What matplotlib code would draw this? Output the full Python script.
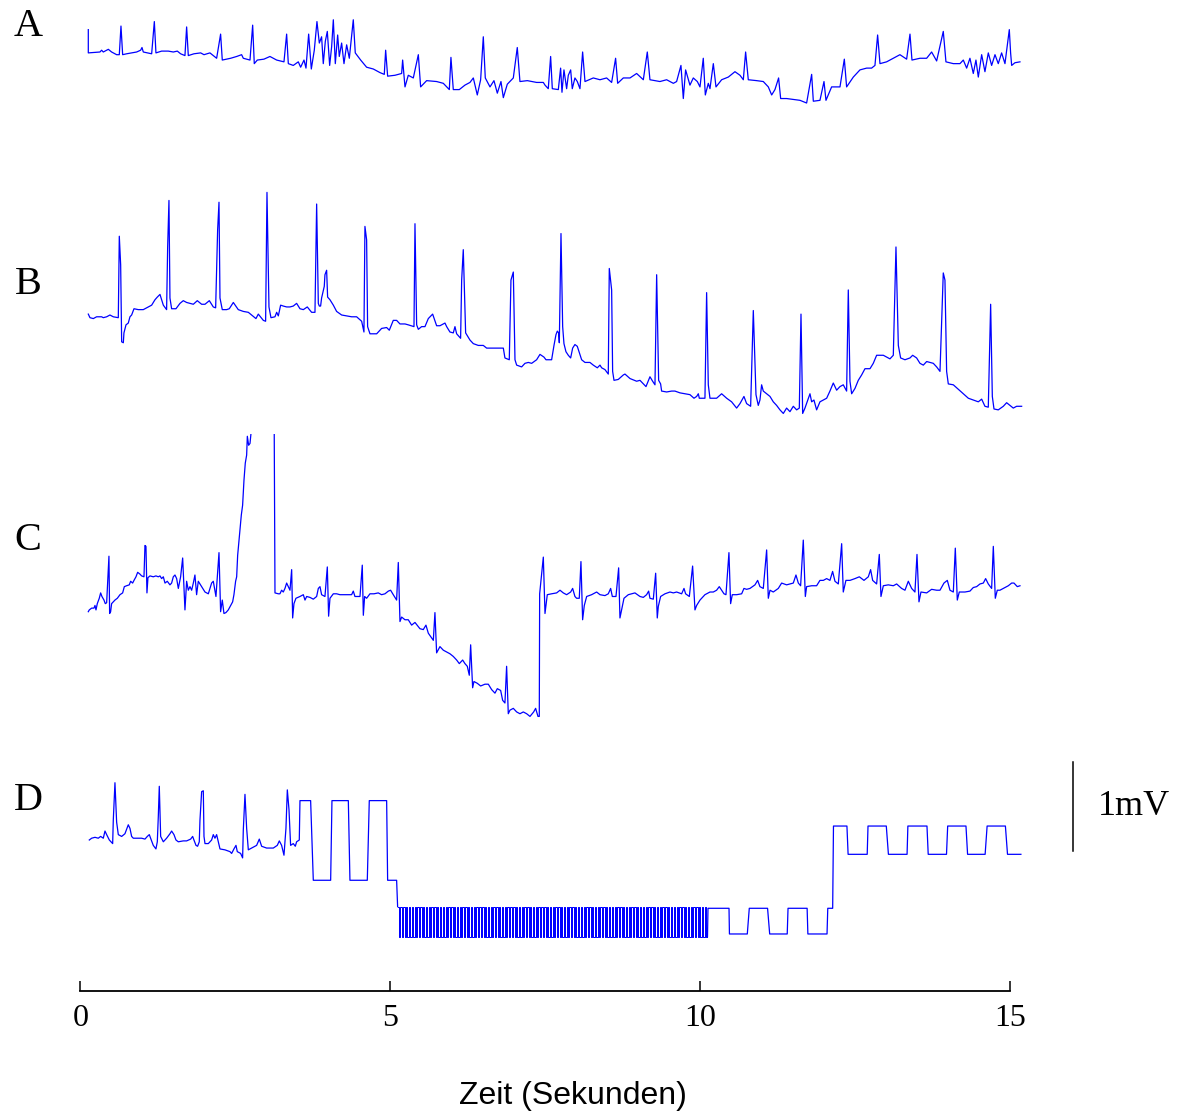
import numpy as np
import matplotlib.pyplot as plt

# ECG recordings, time in s, voltage in mV relative to each trace's start level
trace_a = np.array([
    (0.129, 0.25), (0.129, -0.01), (0.317, 0.00), (0.344, 0.02), (0.371, 0.00), (0.452, 0.03),
    (0.505, 0.00), (0.586, -0.03), (0.629, -0.03), (0.656, 0.29), (0.683, -0.03), (0.747, -0.02),
    (0.828, -0.01), (0.909, 0.00), (0.973, 0.02), (0.995, 0.05), (1.016, 0.00), (1.151, -0.02),
    (1.194, 0.34), (1.220, -0.01), (1.312, 0.01), (1.419, 0.01), (1.500, 0.00), (1.565, 0.01),
    (1.618, -0.02), (1.688, -0.04), (1.715, 0.28), (1.742, -0.04), (1.833, -0.02), (1.941, -0.01),
    (1.995, -0.03), (2.091, -0.01), (2.199, -0.07), (2.263, 0.20), (2.290, -0.09), (2.425, -0.07),
    (2.522, -0.05), (2.602, -0.03), (2.629, -0.07), (2.737, -0.09), (2.780, 0.30), (2.806, -0.13),
    (2.855, -0.09), (2.962, -0.08), (3.059, -0.05), (3.167, -0.09), (3.285, -0.11), (3.328, 0.20),
    (3.355, -0.13), (3.435, -0.15), (3.516, -0.11), (3.554, -0.17), (3.608, -0.09), (3.640, -0.18),
    (3.683, 0.20), (3.726, -0.19), (3.774, 0.02), (3.817, 0.34), (3.855, 0.10), (3.892, 0.17),
    (3.919, -0.13), (3.952, 0.12), (3.984, 0.23), (4.022, -0.15), (4.054, 0.06), (4.081, 0.36),
    (4.113, -0.13), (4.151, 0.19), (4.177, -0.05), (4.215, 0.10), (4.253, -0.13), (4.296, 0.08),
    (4.339, -0.07), (4.403, 0.36), (4.435, -0.01), (4.522, -0.09), (4.618, -0.17), (4.726, -0.19),
    (4.833, -0.23), (4.903, -0.25), (4.925, 0.02), (4.957, -0.27), (5.075, -0.26), (5.183, -0.24),
    (5.199, -0.09), (5.237, -0.39), (5.290, -0.26), (5.371, -0.29), (5.452, -0.03), (5.489, -0.39),
    (5.586, -0.32), (5.747, -0.33), (5.855, -0.35), (5.952, -0.42), (5.978, -0.06), (6.016, -0.42),
    (6.113, -0.42), (6.204, -0.37), (6.285, -0.34), (6.339, -0.29), (6.403, -0.48), (6.457, -0.31),
    (6.500, 0.17), (6.532, -0.29), (6.608, -0.39), (6.672, -0.32), (6.726, -0.46), (6.785, -0.33),
    (6.823, -0.51), (6.887, -0.36), (6.984, -0.29), (7.048, 0.05), (7.091, -0.33), (7.210, -0.32),
    (7.360, -0.34), (7.468, -0.34), (7.495, -0.37), (7.548, -0.41), (7.586, -0.05), (7.613, -0.41),
    (7.710, -0.42), (7.747, -0.18), (7.769, -0.45), (7.801, -0.20), (7.844, -0.41), (7.871, -0.26),
    (7.909, -0.20), (7.935, -0.41), (7.978, -0.29), (8.016, -0.33), (8.059, -0.41), (8.102, 0.00),
    (8.140, -0.33), (8.274, -0.29), (8.382, -0.31), (8.489, -0.29), (8.570, -0.34), (8.634, -0.07),
    (8.667, -0.35), (8.758, -0.29), (8.866, -0.29), (8.973, -0.24), (9.081, -0.31), (9.145, 0.00),
    (9.188, -0.31), (9.269, -0.32), (9.349, -0.33), (9.457, -0.31), (9.565, -0.35), (9.618, -0.33),
    (9.688, -0.15), (9.726, -0.52), (9.763, -0.20), (9.833, -0.37), (9.887, -0.29), (9.952, -0.33),
    (9.995, -0.39), (10.048, -0.07), (10.081, -0.48), (10.129, -0.35), (10.156, -0.41), (10.210, -0.13),
    (10.253, -0.39), (10.344, -0.31), (10.452, -0.28), (10.559, -0.22), (10.640, -0.26), (10.694, -0.31),
    (10.731, 0.00), (10.774, -0.31), (10.909, -0.32), (11.016, -0.33), (11.097, -0.39), (11.151, -0.48),
    (11.204, -0.42), (11.263, -0.29), (11.296, -0.52), (11.392, -0.52), (11.500, -0.53), (11.608, -0.54),
    (11.715, -0.57), (11.796, -0.25), (11.823, -0.55), (11.930, -0.54), (11.995, -0.33), (12.027, -0.54),
    (12.118, -0.39), (12.253, -0.39), (12.323, -0.08), (12.360, -0.39), (12.468, -0.28), (12.575, -0.20),
    (12.683, -0.18), (12.763, -0.18), (12.817, -0.15), (12.860, 0.19), (12.898, -0.13), (13.005, -0.11),
    (13.113, -0.07), (13.220, -0.03), (13.328, -0.08), (13.382, 0.20), (13.414, -0.09), (13.543, -0.07),
    (13.651, -0.07), (13.731, 0.00), (13.812, -0.10), (13.919, 0.23), (13.962, -0.11), (14.081, -0.13),
    (14.188, -0.13), (14.242, -0.09), (14.296, -0.18), (14.349, -0.07), (14.403, -0.24), (14.446, -0.09),
    (14.484, -0.28), (14.538, -0.03), (14.591, -0.22), (14.645, -0.01), (14.699, -0.15), (14.753, -0.03),
    (14.806, -0.13), (14.860, -0.01), (14.914, -0.13), (14.984, 0.25), (15.005, -0.01), (15.022, -0.15),
    (15.075, -0.12), (15.156, -0.11),
])

trace_b = np.array([
    (0.129, 0.01), (0.156, -0.03), (0.210, -0.04), (0.263, -0.02), (0.344, -0.02), (0.371, -0.03),
    (0.425, -0.02), (0.478, 0.00), (0.532, -0.02), (0.613, -0.03), (0.629, 0.88), (0.651, 0.56),
    (0.667, -0.30), (0.694, -0.31), (0.704, -0.20), (0.737, -0.11), (0.774, -0.09), (0.801, -0.02),
    (0.828, 0.00), (0.866, 0.07), (0.935, 0.06), (1.016, 0.06), (1.097, 0.09), (1.151, 0.11),
    (1.204, 0.17), (1.242, 0.20), (1.285, 0.23), (1.339, 0.11), (1.392, 0.06), (1.409, 0.76),
    (1.430, 1.28), (1.446, 0.19), (1.473, 0.07), (1.543, 0.07), (1.608, 0.13), (1.661, 0.16),
    (1.715, 0.14), (1.769, 0.13), (1.823, 0.12), (1.887, 0.16), (1.957, 0.12), (2.011, 0.12),
    (2.081, 0.16), (2.145, 0.09), (2.183, 0.08), (2.215, 0.95), (2.237, 1.26), (2.253, 0.19),
    (2.290, 0.06), (2.360, 0.06), (2.403, 0.07), (2.468, 0.14), (2.548, 0.06), (2.629, 0.04),
    (2.710, 0.03), (2.763, 0.00), (2.833, -0.04), (2.871, 0.01), (2.952, -0.06), (2.989, -0.07),
    (3.011, 1.37), (3.043, 0.09), (3.075, -0.03), (3.140, -0.02), (3.167, 0.03), (3.194, -0.01),
    (3.231, 0.11), (3.274, 0.10), (3.328, 0.09), (3.382, 0.09), (3.435, 0.10), (3.489, 0.13),
    (3.543, 0.07), (3.597, 0.06), (3.661, 0.09), (3.731, 0.03), (3.785, 0.03), (3.812, 1.24),
    (3.839, 0.13), (3.855, 0.10), (3.876, 0.10), (3.892, 0.19), (3.935, 0.32), (3.946, 0.45),
    (3.973, 0.50), (3.989, 0.20), (4.027, 0.17), (4.081, 0.11), (4.134, 0.04), (4.215, 0.00),
    (4.296, -0.01), (4.376, -0.02), (4.457, -0.02), (4.538, -0.07), (4.575, -0.19), (4.591, 0.99),
    (4.618, 0.84), (4.634, -0.13), (4.672, -0.21), (4.780, -0.21), (4.860, -0.15), (4.941, -0.14),
    (4.984, -0.17), (5.048, -0.06), (5.102, -0.06), (5.156, -0.10), (5.237, -0.10), (5.290, -0.11),
    (5.382, -0.13), (5.398, 1.02), (5.425, -0.11), (5.452, -0.16), (5.505, -0.13), (5.559, -0.13),
    (5.613, -0.04), (5.683, 0.01), (5.747, -0.12), (5.801, -0.12), (5.882, -0.09), (5.909, -0.13),
    (5.962, -0.19), (6.016, -0.20), (6.043, -0.13), (6.070, -0.21), (6.134, -0.26), (6.151, 0.39),
    (6.177, 0.73), (6.215, -0.20), (6.285, -0.28), (6.339, -0.32), (6.419, -0.34), (6.500, -0.34),
    (6.554, -0.37), (6.688, -0.37), (6.823, -0.37), (6.849, -0.48), (6.919, -0.50), (6.946, 0.39),
    (6.984, 0.48), (7.011, -0.50), (7.038, -0.56), (7.118, -0.58), (7.172, -0.54), (7.226, -0.53),
    (7.280, -0.54), (7.360, -0.50), (7.414, -0.44), (7.478, -0.47), (7.511, -0.50), (7.602, -0.50),
    (7.618, -0.43), (7.640, -0.34), (7.672, -0.22), (7.694, -0.18), (7.715, -0.20), (7.726, -0.31),
    (7.753, 0.91), (7.780, -0.13), (7.801, -0.32), (7.833, -0.41), (7.871, -0.45), (7.909, -0.48),
    (7.941, -0.37), (7.978, -0.33), (8.016, -0.35), (8.086, -0.50), (8.140, -0.53), (8.220, -0.53),
    (8.274, -0.56), (8.339, -0.59), (8.382, -0.56), (8.409, -0.59), (8.462, -0.61), (8.516, -0.66),
    (8.532, 0.52), (8.570, 0.28), (8.586, -0.63), (8.608, -0.73), (8.677, -0.72), (8.758, -0.67),
    (8.785, -0.66), (8.866, -0.71), (8.973, -0.74), (9.027, -0.73), (9.124, -0.80), (9.188, -0.69),
    (9.231, -0.74), (9.269, -0.78), (9.296, 0.45), (9.328, -0.73), (9.360, -0.77), (9.376, -0.85),
    (9.457, -0.86), (9.538, -0.85), (9.591, -0.85), (9.672, -0.87), (9.753, -0.88), (9.833, -0.89),
    (9.898, -0.93), (9.941, -0.91), (9.968, -0.88), (9.984, -0.93), (10.075, -0.93), (10.102, 0.25),
    (10.129, -0.78), (10.156, -0.93), (10.263, -0.93), (10.344, -0.88), (10.425, -0.93), (10.505, -0.97),
    (10.586, -1.04), (10.640, -0.99), (10.704, -0.91), (10.747, -0.99), (10.812, -1.02), (10.855, 0.05),
    (10.898, -0.89), (10.935, -1.01), (10.962, -0.95), (10.989, -0.78), (11.016, -0.85), (11.070, -0.88),
    (11.124, -0.91), (11.177, -0.97), (11.231, -1.01), (11.285, -1.06), (11.339, -1.10), (11.392, -1.04),
    (11.446, -1.08), (11.500, -1.02), (11.554, -1.06), (11.597, -1.04), (11.624, 0.01), (11.651, -1.10),
    (11.688, -1.04), (11.769, -0.88), (11.796, -0.97), (11.833, -0.95), (11.876, -1.06), (11.930, -0.97),
    (11.984, -0.95), (12.038, -0.93), (12.091, -0.85), (12.145, -0.76), (12.199, -0.84), (12.253, -0.80),
    (12.306, -0.78), (12.360, -0.85), (12.387, 0.28), (12.414, -0.74), (12.441, -0.88), (12.495, -0.82),
    (12.548, -0.73), (12.602, -0.67), (12.656, -0.60), (12.737, -0.60), (12.790, -0.54), (12.844, -0.45),
    (12.952, -0.45), (13.059, -0.49), (13.113, -0.45), (13.156, 0.76), (13.194, -0.34), (13.231, -0.48),
    (13.301, -0.50), (13.382, -0.48), (13.425, -0.45), (13.489, -0.48), (13.543, -0.54), (13.597, -0.56),
    (13.651, -0.52), (13.758, -0.54), (13.812, -0.58), (13.866, -0.63), (13.919, 0.47), (13.946, 0.39),
    (13.973, -0.63), (14.000, -0.77), (14.081, -0.78), (14.161, -0.83), (14.242, -0.88), (14.323, -0.93),
    (14.403, -0.95), (14.484, -0.97), (14.538, -0.94), (14.591, -1.02), (14.645, -1.03), (14.683, 0.12),
    (14.710, -0.91), (14.737, -1.05), (14.806, -1.06), (14.887, -1.02), (14.941, -0.98), (14.995, -1.01),
    (15.048, -1.04), (15.102, -1.02), (15.183, -1.02),
])

# the part of C above the panel top is cut off, as in the recording
trace_c = np.array([
    (0.129, 0.00), (0.145, 0.02), (0.183, 0.04), (0.220, 0.04), (0.237, 0.07), (0.253, 0.02),
    (0.274, 0.09), (0.306, 0.15), (0.328, 0.21), (0.349, 0.17), (0.382, 0.13), (0.403, 0.09),
    (0.425, 0.10), (0.441, 0.32), (0.462, 0.62), (0.473, -0.02), (0.489, 0.00), (0.505, 0.09),
    (0.532, 0.11), (0.559, 0.13), (0.597, 0.15), (0.640, 0.19), (0.683, 0.21), (0.710, 0.28),
    (0.747, 0.29), (0.790, 0.30), (0.812, 0.34), (0.844, 0.32), (0.866, 0.35), (0.898, 0.39),
    (0.925, 0.44), (0.962, 0.42), (0.989, 0.40), (1.027, 0.39), (1.043, 0.74), (1.059, 0.73),
    (1.075, 0.21), (1.091, 0.38), (1.124, 0.40), (1.177, 0.39), (1.220, 0.40), (1.258, 0.39),
    (1.285, 0.40), (1.312, 0.37), (1.339, 0.39), (1.366, 0.32), (1.403, 0.34), (1.446, 0.30),
    (1.473, 0.32), (1.500, 0.39), (1.527, 0.41), (1.554, 0.37), (1.581, 0.26), (1.618, 0.39),
    (1.651, 0.60), (1.688, 0.02), (1.715, 0.34), (1.742, 0.24), (1.769, 0.28), (1.796, 0.24),
    (1.823, 0.32), (1.849, 0.41), (1.876, 0.19), (1.903, 0.34), (1.957, 0.28), (2.011, 0.22),
    (2.065, 0.20), (2.118, 0.32), (2.145, 0.34), (2.188, 0.17), (2.237, 0.66), (2.263, 0.00),
    (2.290, 0.13), (2.317, -0.02), (2.349, -0.01), (2.387, 0.02), (2.425, 0.07), (2.457, 0.11),
    (2.478, 0.19), (2.505, 0.34), (2.522, 0.39), (2.538, 0.63), (2.575, 0.91), (2.597, 1.08),
    (2.618, 1.19), (2.629, 1.34), (2.640, 1.47), (2.661, 1.66), (2.683, 1.75), (2.694, 1.96),
    (2.715, 1.86), (2.737, 1.88), (2.780, 2.18), (2.844, 2.59), (3.124, 2.59), (3.140, 0.21),
    (3.194, 0.20), (3.220, 0.20), (3.247, 0.24), (3.274, 0.22), (3.301, 0.26), (3.328, 0.32),
    (3.355, 0.28), (3.382, 0.24), (3.409, 0.47), (3.425, -0.07), (3.446, 0.09), (3.478, 0.15),
    (3.543, 0.17), (3.597, 0.19), (3.624, 0.13), (3.651, 0.17), (3.704, 0.16), (3.758, 0.14),
    (3.812, 0.17), (3.839, 0.26), (3.866, 0.28), (3.892, 0.19), (3.946, 0.17), (3.984, 0.50),
    (4.005, -0.05), (4.027, 0.15), (4.081, 0.20), (4.134, 0.20), (4.188, 0.19), (4.242, 0.19),
    (4.296, 0.19), (4.376, 0.19), (4.403, 0.23), (4.430, 0.17), (4.511, 0.17), (4.548, 0.52),
    (4.565, -0.04), (4.586, 0.17), (4.618, 0.15), (4.672, 0.20), (4.737, 0.20), (4.806, 0.21),
    (4.860, 0.19), (4.914, 0.20), (4.968, 0.23), (5.005, 0.24), (5.048, 0.19), (5.102, 0.13),
    (5.129, 0.55), (5.156, -0.11), (5.183, -0.06), (5.237, -0.09), (5.290, -0.09), (5.344, -0.15),
    (5.398, -0.12), (5.478, -0.19), (5.532, -0.20), (5.575, -0.15), (5.613, -0.24), (5.694, -0.32),
    (5.720, -0.01), (5.747, -0.46), (5.801, -0.39), (5.855, -0.43), (5.909, -0.45), (5.962, -0.47),
    (6.016, -0.50), (6.070, -0.54), (6.113, -0.58), (6.167, -0.54), (6.204, -0.58), (6.242, -0.61),
    (6.274, -0.71), (6.296, -0.37), (6.328, -0.85), (6.349, -0.78), (6.403, -0.80), (6.457, -0.83),
    (6.527, -0.81), (6.581, -0.81), (6.634, -0.87), (6.688, -0.91), (6.726, -0.86), (6.780, -0.88),
    (6.812, -0.99), (6.849, -1.02), (6.876, -0.61), (6.903, -1.14), (6.930, -1.10), (6.984, -1.08),
    (7.038, -1.12), (7.091, -1.14), (7.145, -1.12), (7.199, -1.14), (7.253, -1.17), (7.312, -1.12),
    (7.344, -1.08), (7.382, -1.17), (7.403, -1.17), (7.409, 0.20), (7.468, 0.61), (7.495, -0.02),
    (7.532, 0.19), (7.602, 0.20), (7.683, 0.21), (7.737, 0.24), (7.790, 0.21), (7.844, 0.19),
    (7.909, 0.22), (7.941, 0.26), (7.978, 0.17), (8.005, 0.15), (8.048, 0.15), (8.075, 0.56),
    (8.102, -0.09), (8.129, 0.07), (8.167, 0.17), (8.247, 0.19), (8.328, 0.22), (8.382, 0.19),
    (8.462, 0.18), (8.516, 0.20), (8.554, 0.26), (8.581, 0.17), (8.640, 0.17), (8.683, 0.49),
    (8.704, -0.07), (8.731, 0.02), (8.769, 0.15), (8.839, 0.19), (8.946, 0.21), (9.027, 0.17),
    (9.081, 0.16), (9.134, 0.19), (9.167, 0.23), (9.188, 0.15), (9.242, 0.14), (9.280, 0.43),
    (9.306, -0.07), (9.323, 0.06), (9.360, 0.17), (9.430, 0.20), (9.511, 0.22), (9.565, 0.21),
    (9.618, 0.22), (9.699, 0.20), (9.737, 0.26), (9.763, 0.20), (9.823, 0.17), (9.876, 0.51),
    (9.914, 0.02), (9.941, 0.07), (9.995, 0.13), (10.075, 0.19), (10.156, 0.22), (10.210, 0.22),
    (10.263, 0.24), (10.306, 0.28), (10.344, 0.24), (10.382, 0.20), (10.414, 0.19), (10.462, 0.66),
    (10.489, 0.09), (10.516, 0.19), (10.586, 0.19), (10.667, 0.20), (10.704, 0.26), (10.747, 0.25),
    (10.801, 0.26), (10.882, 0.30), (10.925, 0.35), (10.962, 0.28), (11.016, 0.26), (11.070, 0.69),
    (11.097, 0.15), (11.124, 0.24), (11.177, 0.22), (11.258, 0.26), (11.312, 0.32), (11.392, 0.30),
    (11.500, 0.32), (11.543, 0.41), (11.581, 0.32), (11.618, 0.29), (11.661, 0.80), (11.694, 0.17),
    (11.715, 0.28), (11.796, 0.29), (11.876, 0.29), (11.930, 0.35), (11.984, 0.35), (12.038, 0.37),
    (12.091, 0.35), (12.134, 0.45), (12.172, 0.34), (12.226, 0.31), (12.280, 0.76), (12.306, 0.22),
    (12.349, 0.35), (12.414, 0.35), (12.495, 0.37), (12.565, 0.39), (12.640, 0.35), (12.710, 0.39),
    (12.747, 0.47), (12.780, 0.35), (12.844, 0.31), (12.887, 0.64), (12.914, 0.17), (12.952, 0.29),
    (13.032, 0.30), (13.113, 0.29), (13.167, 0.31), (13.247, 0.26), (13.301, 0.24), (13.355, 0.34),
    (13.409, 0.26), (13.462, 0.22), (13.495, 0.64), (13.527, 0.11), (13.559, 0.22), (13.651, 0.21),
    (13.731, 0.25), (13.812, 0.24), (13.866, 0.24), (13.930, 0.32), (13.984, 0.35), (14.027, 0.24),
    (14.081, 0.22), (14.113, 0.71), (14.145, 0.13), (14.177, 0.22), (14.269, 0.22), (14.349, 0.23),
    (14.403, 0.27), (14.457, 0.28), (14.511, 0.31), (14.565, 0.32), (14.602, 0.37), (14.645, 0.31),
    (14.699, 0.26), (14.726, 0.73), (14.758, 0.15), (14.790, 0.24), (14.833, 0.24), (14.914, 0.27),
    (14.968, 0.29), (15.022, 0.32), (15.059, 0.32), (15.113, 0.28), (15.156, 0.29),
])

# D: ECG, then the stimulation pattern
trace_d_ecg = np.array([
    (0.145, 0.00), (0.183, 0.02), (0.237, 0.03), (0.290, 0.02), (0.328, 0.04), (0.371, 0.02),
    (0.398, 0.10), (0.425, 0.06), (0.468, 0.00), (0.522, -0.04), (0.532, 0.22), (0.559, 0.64),
    (0.586, 0.20), (0.613, 0.06), (0.667, 0.04), (0.720, 0.07), (0.774, 0.17), (0.801, 0.13),
    (0.828, 0.04), (0.855, 0.02), (0.989, 0.02), (1.043, 0.01), (1.081, 0.04), (1.113, 0.06),
    (1.134, 0.02), (1.177, -0.06), (1.220, -0.10), (1.242, -0.02), (1.258, 0.26), (1.274, 0.60),
    (1.296, 0.04), (1.339, -0.02), (1.392, 0.02), (1.446, 0.07), (1.473, 0.10), (1.511, 0.06),
    (1.543, 0.00), (1.581, -0.02), (1.661, -0.01), (1.715, -0.01), (1.780, 0.01), (1.812, 0.04),
    (1.833, 0.00), (1.866, -0.06), (1.892, -0.07), (1.919, -0.02), (1.930, 0.22), (1.957, 0.54),
    (1.984, 0.55), (1.995, 0.04), (2.011, -0.04), (2.065, -0.04), (2.118, 0.00), (2.145, 0.06),
    (2.172, 0.02), (2.199, 0.06), (2.226, -0.02), (2.253, -0.10), (2.333, -0.11), (2.414, -0.13),
    (2.441, -0.15), (2.478, -0.10), (2.511, -0.06), (2.532, -0.13), (2.586, -0.15), (2.618, -0.20),
    (2.629, 0.11), (2.656, 0.51), (2.683, 0.13), (2.710, -0.11), (2.763, -0.09), (2.844, -0.06),
    (2.887, 0.01), (2.925, -0.07), (3.005, -0.09), (3.113, -0.09), (3.177, -0.06), (3.210, -0.01),
    (3.247, -0.06), (3.285, -0.17), (3.317, 0.13), (3.339, 0.56), (3.366, 0.34), (3.392, -0.06),
    (3.435, -0.04), (3.468, -0.07), (3.489, -0.02), (3.532, 0.00),
])
trace_d_pulses = np.array([
    (3.543, 0.44), (3.715, 0.44), (3.758, -0.45), (4.038, -0.45), (4.059, 0.44), (4.323, 0.44),
    (4.349, -0.45), (4.629, -0.45), (4.661, 0.44), (4.941, 0.44), (4.957, -0.45), (5.102, -0.45),
])
# fast square-wave burst
burst_start, burst_stop = 5.118, 10.116
burst_cycles = 110
burst_high, burst_low = -0.745, -1.08
trace_d_tail = np.array([
    (10.124, -0.763), (10.463, -0.763), (10.470, -1.05), (10.758, -1.05), (10.790, -0.763),
    (11.085, -0.763), (11.119, -1.05), (11.402, -1.05), (11.415, -0.763), (11.723, -0.763),
    (11.735, -1.05), (12.044, -1.05), (12.056, -0.763), (12.135, -0.763), (12.148, 0.156),
    (12.365, 0.156), (12.384, -0.16), (12.692, -0.16), (12.705, 0.156), (13.000, 0.156),
    (13.034, -0.16), (13.335, -0.16), (13.348, 0.156), (13.656, 0.156), (13.676, -0.16),
    (13.971, -0.16), (13.990, 0.156), (14.285, 0.156), (14.311, -0.16), (14.594, -0.16),
    (14.626, 0.156), (14.921, 0.156), (14.955, -0.16), (15.171, -0.16),
])

panel_names = ['A', 'B', 'C', 'D']
time_ticks = [0, 5, 10, 15]
scale_mv = 1.0
scale_label = '1mV'

# ---- layout (pixels of the 1177 x 1113 canvas)
W, H = 1177, 1113
PX_PER_S = 62.0
PX_PER_MV = 89.5
T0_PX = 80.3        # x pixel of t = 0
LEFT_PX = 40
# (top, bottom, zero-level) pixel rows of each panel
panels = [(0, 140, 52), (145, 425, 315), (434, 735, 611.7), (740, 991, 840)]
label_rows = [26, 284, 541, 801]

blue = '#0000ff'
serif = ['Liberation Serif', 'DejaVu Serif']

fig = plt.figure(figsize=(W / 100, H / 100), dpi=100)

axes = []
for top, bottom, zero in panels:
    ax = fig.add_axes([LEFT_PX / W, 1 - bottom / H, (W - LEFT_PX) / W, (bottom - top) / H])
    ax.set_xlim((LEFT_PX - T0_PX) / PX_PER_S, (W - T0_PX) / PX_PER_S)
    ax.set_ylim((zero - bottom) / PX_PER_MV, (zero - top) / PX_PER_MV)
    axes.append(ax)

ax_a, ax_b, ax_c, ax_d = axes
ax_a.plot(trace_a[:, 0], trace_a[:, 1], color=blue, lw=0.9)
ax_b.plot(trace_b[:, 0], trace_b[:, 1], color=blue, lw=0.9)
ax_c.plot(trace_c[:, 0], trace_c[:, 1], color=blue, lw=0.9)

# D in three pieces: ECG + slow pulses, the burst (thinner line), the tail
edges = np.linspace(burst_start, burst_stop, 2 * burst_cycles + 1)
burst_t = np.repeat(edges, 2)[1:-1]
burst_v = np.tile([burst_high, burst_high, burst_low, burst_low], burst_cycles)
head = np.vstack([trace_d_ecg, trace_d_pulses, [[burst_t[0], burst_v[0]]]])
tail = np.vstack([[[burst_t[-1], burst_v[-1]]], trace_d_tail])
ax_d.plot(head[:, 0], head[:, 1], color=blue, lw=0.9)
ax_d.plot(burst_t, burst_v, color=blue, lw=0.72)
ax_d.plot(tail[:, 0], tail[:, 1], color=blue, lw=0.9)

# scale bar
scale_t = (1073.3 - T0_PX) / PX_PER_S
scale_bottom = -0.123
ax_d.plot([scale_t, scale_t], [scale_bottom, scale_bottom + scale_mv], color='black', lw=1.1)
ax_d.text(scale_t + 0.39, scale_bottom + scale_mv / 2, scale_label, fontsize=26,
          family=serif, va='center', ha='left')

for ax in (ax_a, ax_b, ax_c):
    ax.axis('off')

for side in ('left', 'right', 'top'):
    ax_d.spines[side].set_visible(False)
ax_d.spines['bottom'].set_bounds(time_ticks[0], time_ticks[-1])
ax_d.spines['bottom'].set_linewidth(1.3)
ax_d.yaxis.set_visible(False)
ax_d.set_xticks(time_ticks)
ax_d.set_xticklabels([str(t) for t in time_ticks], family=serif)
ax_d.tick_params(axis='x', direction='in', length=7, width=1.1, labelsize=23, pad=9)

for name, row in zip(panel_names, label_rows):
    fig.text(28 / W, 1 - row / H, name, fontsize=29, family=serif, ha='center', va='center')

fig.text(573 / W, 1 - 1096 / H, 'Zeit (Sekunden)', fontsize=23,
         family=['Liberation Sans', 'DejaVu Sans'], ha='center', va='center')

fig.savefig('out.png', dpi=100)
